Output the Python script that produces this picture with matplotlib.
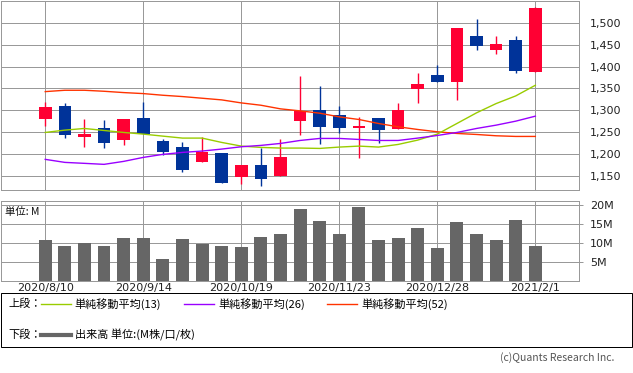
import matplotlib
matplotlib.use('Agg')
import matplotlib.pyplot as plt
import matplotlib.dates as mdates
import numpy as np
import pandas as pd
from matplotlib.patches import Rectangle
from matplotlib.lines import Line2D

plt.rcParams['font.family'] = ['Noto Sans CJK JP', 'DejaVu Sans']

# ---- data (weekly) ----
dates = pd.date_range('2020-08-10', periods=26, freq='7D')
opens  = [1281, 1309, 1240, 1259, 1232, 1282, 1230, 1216, 1182, 1202, 1148, 1175, 1150,
          1275, 1300, 1289, 1259, 1282, 1257, 1348, 1380, 1364, 1469, 1439, 1460, 1387]
highs  = [1319, 1316, 1280, 1278, 1280, 1319, 1234, 1228, 1239, 1203, 1176, 1214, 1234,
          1378, 1355, 1309, 1284, 1282, 1316, 1385, 1403, 1489, 1508, 1469, 1469, 1537]
lows   = [1264, 1237, 1217, 1215, 1221, 1245, 1199, 1159, 1182, 1133, 1132, 1127, 1150,
          1243, 1223, 1249, 1192, 1226, 1257, 1316, 1364, 1323, 1439, 1428, 1385, 1387]
closes = [1307, 1243, 1246, 1226, 1280, 1246, 1205, 1164, 1205, 1134, 1175, 1143, 1193,
          1298, 1262, 1259, 1264, 1255, 1300, 1360, 1364, 1489, 1446, 1451, 1391, 1535]
ma13 = [1249.5, 1254.8, 1258.6, 1254.0, 1249.5, 1245.7, 1241.1, 1236.6, 1236.6, 1226.7,
        1218.3, 1215.3, 1213.8, 1213.8, 1213.0, 1216.1, 1218.3, 1216.1, 1222.1, 1232.0,
        1245.7, 1270.0, 1294.3, 1315.5, 1333.0, 1357.3]
ma26 = [1188.0, 1181.1, 1178.9, 1176.6, 1183.4, 1192.5, 1199.4, 1203.9, 1207.0, 1211.5,
        1216.8, 1219.9, 1224.4, 1231.2, 1235.8, 1235.8, 1233.5, 1231.2, 1231.2, 1236.6,
        1242.6, 1249.5, 1258.6, 1266.2, 1275.3, 1286.7]
ma52 = [1342.8, 1345.9, 1345.9, 1343.6, 1340.6, 1338.3, 1334.5, 1331.5, 1327.7, 1323.9,
        1317.0, 1311.7, 1303.4, 1298.8, 1293.5, 1285.1, 1279.1, 1270.0, 1262.4, 1256.3,
        1251.0, 1247.2, 1244.9, 1241.9, 1240.4, 1240.4]
volume = [10.75, 9.16, 9.96, 9.16, 11.28, 11.28, 5.73, 11.0, 9.78, 9.16, 8.9, 11.54, 12.33,
          18.94, 15.77, 12.33, 19.47, 10.75, 11.28, 13.92, 8.63, 15.5, 12.33, 10.75, 16.04, 9.16]

date_ticks = ['2020-08-10', '2020-09-14', '2020-10-19', '2020-11-23', '2020-12-28', '2021-02-01']
date_labels = ['2020/8/10', '2020/9/14', '2020/10/19', '2020/11/23', '2020/12/28', '2021/2/1']
price_ticks = [1150, 1200, 1250, 1300, 1350, 1400, 1450, 1500]
price_labels = ['1,150', '1,200', '1,250', '1,300', '1,350', '1,400', '1,450', '1,500']
vol_ticks = [5, 10, 15, 20]
vol_labels = ['5M', '10M', '15M', '20M']
legend_labels = ['単純移動平均(13)', '単純移動平均(26)', '単純移動平均(52)']

# ---- style ----
W, H = 633, 373
fig = plt.figure(figsize=(W / 100, H / 100), dpi=100)
RED = '#FF0033'
BLUE = '#003399'
GRID = '#999999'
C13, C26, C52 = '#99CC00', '#9900FF', '#FF3300'
PX = 0.72  # 1 px in points

def fx(px):
    return px / W

def fy(py):
    return 1 - py / H

left, right = 1, 579.3
ax = fig.add_axes([fx(left), fy(190), fx(right - left), (190 - 0.5) / H])
axv = fig.add_axes([fx(left), fy(280.7), fx(right - left), (280.7 - 201) / H])

x = mdates.date2num(dates)
xlim = (x[0] - 15.8, x[-1] + 15.7)
tick_x = mdates.date2num(pd.to_datetime(date_ticks))

for a in (ax, axv):
    a.set_xlim(*xlim)
    a.set_xticks(tick_x)
    for s in a.spines.values():
        s.set_color(GRID)
        s.set_linewidth(PX)
    a.grid(True, color=GRID, linewidth=PX)
    a.set_axisbelow(True)
    a.yaxis.tick_right()

# candles
bw = 4.5
for xi, o, h, l, c in zip(x, opens, highs, lows, closes):
    col = RED if c >= o else BLUE
    ax.plot([xi, xi], [l, h], color=col, linewidth=1.0, zorder=2, solid_capstyle='butt')
    ax.add_patch(Rectangle((xi - bw / 2, min(o, c)), bw, max(abs(c - o), 1.5),
                           facecolor=col, edgecolor='none', zorder=3))

ax.plot(x, ma52, color=C52, linewidth=1.0, zorder=4)
ax.plot(x, ma13, color=C13, linewidth=1.0, zorder=4)
ax.plot(x, ma26, color=C26, linewidth=1.0, zorder=4)

ax.set_ylim(1118, 1551)
ax.set_yticks(price_ticks)
ax.set_yticklabels(price_labels, family='DejaVu Sans', fontsize=8, color='#222222')
ax.tick_params(axis='y', length=0, pad=7.5)
ax.tick_params(axis='x', length=0, labelbottom=False)

# volume
axv.bar(x, volume, width=4.6, color='#666666', zorder=3)
axv.set_ylim(0, 21.07)
axv.set_yticks(vol_ticks)
axv.set_yticklabels(vol_labels, family='DejaVu Sans', fontsize=8, color='#222222')
axv.tick_params(axis='y', length=3, width=PX, color=GRID, pad=4.5)
axv.set_xticklabels(date_labels, family='DejaVu Sans', fontsize=8, color='#222222')
axv.tick_params(axis='x', length=0, pad=2)
axv.text(4 / (right - left), 0.93, '単位: M', transform=axv.transAxes, fontsize=7.5,
         ha='left', va='top', color='#111111', zorder=5)

# legend box
fig.patches.append(Rectangle((fx(0.5), fy(346.5)), fx(631), (346.5 - 293) / H,
                             transform=fig.transFigure, fill=False, edgecolor='black',
                             linewidth=PX))
fig.text(fx(8), fy(304), '上段：', fontsize=8, va='center', ha='left')
for (x0, lab, col) in [(40.7, legend_labels[0], C13), (184, legend_labels[1], C26),
                       (327, legend_labels[2], C52)]:
    fig.add_artist(Line2D([fx(x0), fx(x0 + 30)], [fy(304), fy(304)], color=col,
                          linewidth=1.0, transform=fig.transFigure))
    fig.text(fx(x0 + 34), fy(304), lab, fontsize=8, va='center', ha='left')
fig.text(fx(8), fy(335), '下段：', fontsize=8, va='center', ha='left')
fig.add_artist(Line2D([fx(40.7), fx(70.7)], [fy(335), fy(335)], color='#666666',
                      linewidth=3.0, transform=fig.transFigure))
fig.text(fx(74.7), fy(335), '出来高 単位:(M株/口/枚)', fontsize=8, va='center', ha='left')
fig.text(fx(614), fy(358), '(c)Quants Research Inc.', fontsize=7.5, va='center',
         ha='right', color='#555555')

fig.savefig('out.png', dpi=100)
